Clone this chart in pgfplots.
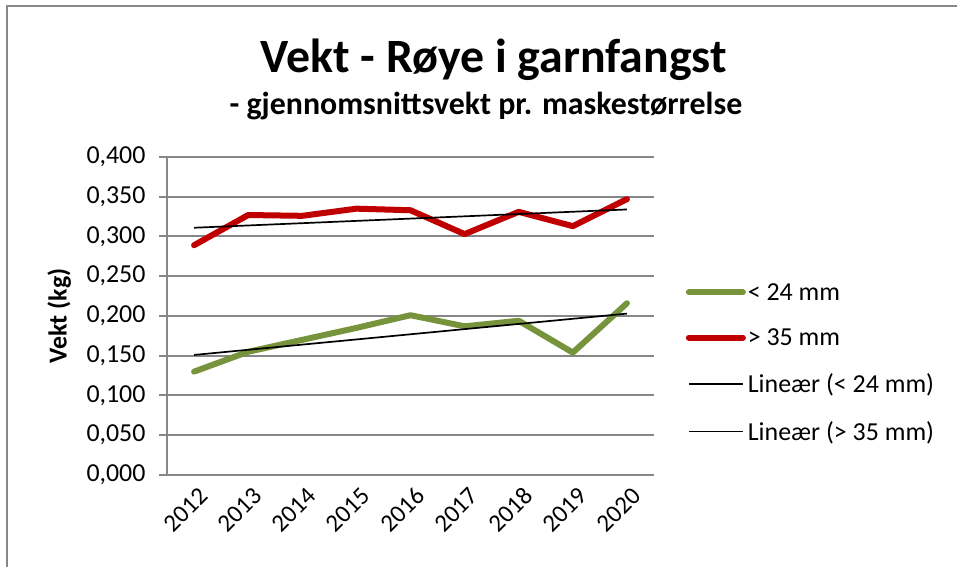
\documentclass[border=0pt]{standalone}
\usepackage{pgfplots}
\pgfplotsset{compat=1.18}
\usepackage{fontspec}
\setmainfont{Carlito}
\definecolor{redline}{HTML}{C00000}
\definecolor{greenline}{HTML}{77933C}
\definecolor{axgray}{HTML}{878787}
\begin{document}
\begin{tikzpicture}[x=1bp,y=1bp]
\path[use as bounding box] (0,0) rectangle (957,567);
\draw[axgray, line width=2.5bp] (7,0) -- (7,561) -- (957,561);
\node[font=\fontsize{48}{56}\bfseries\selectfont, anchor=base, inner sep=0] at (494,494) {Vekt - Røye i garnfangst};
\node[font=\fontsize{32}{38}\bfseries\selectfont, anchor=base, inner sep=0] at (486,452) {- gjennomsnittsvekt pr. maskestørrelse};
\begin{axis}[
  at={(167bp,92bp)}, anchor=south west,
  scale only axis, width=487bp, height=318bp,
  xmin=-0.5, xmax=8.5, ymin=0, ymax=0.4,
  axis x line*=bottom, axis y line*=left,
  axis line style={axgray, line width=2bp},
  ytick={0,0.05,...,0.401},
  ymajorgrids, grid style={axgray, line width=2bp},
  tick align=outside, major tick length=8bp,
  tick style={axgray, line width=2bp},
  yticklabel style={font=\fontsize{26}{30}\selectfont, xshift=-10bp},
  /pgf/number format/.cd, fixed, fixed zerofill, precision=3, use comma, assume math mode=true,
  /pgfplots/.cd,
  xtick={0,...,8},
  xticklabels={2012,2013,2014,2015,2016,2017,2018,2019,2020},
  major x tick style={draw=none},
  extra x ticks={-0.5,0.5,1.5,2.5,3.5,4.5,5.5,6.5,7.5,8.5},
  extra x tick labels={},
  extra x tick style={grid=none, major x tick style={axgray, line width=2bp}},
  xticklabel style={font=\fontsize{25}{30}\selectfont, rotate=45, anchor=east, xshift=4bp, yshift=-13bp},
  ylabel={\bfseries Vekt (kg)},
  ylabel style={font=\fontsize{26}{30}\selectfont, at={(-0.19,0.5)}},
  legend style={at={(1.065,0.61)}, anchor=north west, draw=none, fill=none,
    font=\fontsize{26}{30}\selectfont, row sep=23bp, inner sep=0pt},
  legend cell align=left,
  legend image code/.code={\draw[#1] (0bp,0bp) -- (54bp,0bp);},
  clip=false,
]
\addplot[greenline, line width=6bp, line join=round, line cap=round] coordinates {
(0,0.130) (1,0.155) (2,0.170) (3,0.185) (4,0.201) (5,0.187) (6,0.194) (7,0.154) (8,0.216)};
\addlegendentry{< 24 mm}
\addplot[redline, line width=6bp, line join=round, line cap=round] coordinates {
(0,0.289) (1,0.327) (2,0.326) (3,0.335) (4,0.333) (5,0.303) (6,0.331) (7,0.313) (8,0.347)};
\addlegendentry{> 35 mm}
\addplot[black, line width=1.7bp] coordinates {(0,0.151) (8,0.203)};
\addlegendentry{Lineær (< 24 mm)}
\addplot[black, line width=1.7bp] coordinates {(0,0.311) (8,0.334)};
\addlegendentry{Lineær (> 35 mm)}
\end{axis}
\end{tikzpicture}
\end{document}
